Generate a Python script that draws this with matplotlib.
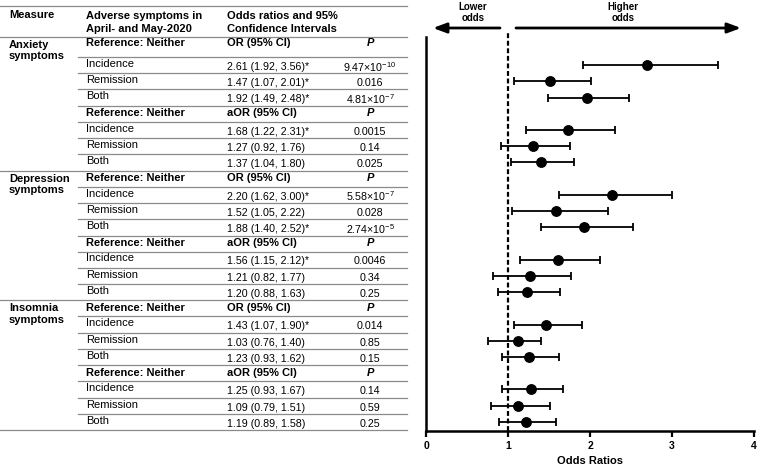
import matplotlib
matplotlib.use("Agg")
import matplotlib.pyplot as plt

plt.rcParams['font.family'] = ['Liberation Sans', 'DejaVu Sans']
plt.rcParams['mathtext.fontset'] = 'custom'
plt.rcParams['mathtext.rm'] = 'Liberation Sans'
plt.rcParams['mathtext.it'] = 'Liberation Sans:italic'
plt.rcParams['mathtext.bf'] = 'Liberation Sans:bold'

# ---------------- data ----------------
measures = ["Anxiety\nsymptoms", "Depression\nsymptoms", "Insomnia\nsymptoms"]
estimate_types = ["OR (95% CI)", "aOR (95% CI)"]
categories = ["Incidence", "Remission", "Both"]
reference_label = "Reference: Neither"

# table values (rows: measure x estimate type x category)
or_table = [2.61, 1.47, 1.92, 1.68, 1.27, 1.37,
            2.20, 1.52, 1.88, 1.56, 1.21, 1.20,
            1.43, 1.03, 1.23, 1.25, 1.09, 1.19]
ci_low = [1.92, 1.07, 1.49, 1.22, 0.92, 1.04,
          1.62, 1.05, 1.40, 1.15, 0.82, 0.88,
          1.07, 0.76, 0.93, 0.93, 0.79, 0.89]
ci_high = [3.56, 2.01, 2.48, 2.31, 1.76, 1.80,
           3.00, 2.22, 2.52, 2.12, 1.77, 1.63,
           1.90, 1.40, 1.62, 1.67, 1.51, 1.58]
significant = [True, True, True, True, False, False,
               True, False, True, True, False, False,
               True, False, False, False, False, False]
p_labels = [r"9.47×10$^{-10}$", "0.016", r"4.81×10$^{-7}$", "0.0015", "0.14", "0.025",
            r"5.58×10$^{-7}$", "0.028", r"2.74×10$^{-5}$", "0.0046", "0.34", "0.25",
            "0.014", "0.85", "0.15", "0.14", "0.59", "0.25"]
# marker positions as drawn in the forest plot
marker_or = [2.69, 1.51, 1.96, 1.73, 1.31, 1.40,
             2.27, 1.59, 1.93, 1.61, 1.27, 1.23,
             1.46, 1.12, 1.26, 1.28, 1.12, 1.22]

x_ticks = [0, 1, 2, 3, 4]
x_label = "Odds Ratios"
header = ["Measure", "Adverse symptoms in\nApril- and May-2020",
          "Odds ratios and 95%\nConfidence Intervals", "P"]

# ---------------- layout (pixels) ----------------
W, H = 760, 470
fig = plt.figure(figsize=(W / 100, H / 100), dpi=100)
tab = fig.add_axes([0, 0, 1, 1])
tab.set_xlim(0, W)
tab.set_ylim(H, 0)
tab.axis('off')

FS = 8
LINE_C = '#8a8a8a'
LW = 0.9
col1_x, col2_x, col3_x, col4_x = 9, 86, 227, 370
tab_right = 407
top_line, head_line = 6, 36.5
first_ref_h, ref_h, row_h = 20.3, 16.0, 16.3

tab.plot([0, tab_right], [top_line, top_line], color=LINE_C, lw=LW)
tab.plot([0, tab_right], [head_line, head_line], color=LINE_C, lw=LW)
tab.text(col1_x, 15.5, header[0], fontsize=FS, fontweight='bold', va='center', ha='left')
tab.text(col2_x, 22.5, header[1], fontsize=FS, fontweight='bold', va='center', ha='left', linespacing=1.3)
tab.text(col3_x, 22.5, header[2], fontsize=FS, fontweight='bold', va='center', ha='left', linespacing=1.3)

row_y = []
y0 = head_line
for b in range(6):
    m, e = divmod(b, 2)
    rh = first_ref_h if b == 0 else ref_h
    ty = y0 + (6.5 if b == 0 else 7.5)
    if e == 0:
        tab.text(col1_x, y0 + 3, measures[m], fontsize=FS, fontweight='bold',
                 va='top', ha='left', linespacing=1.15)
    tab.text(col2_x, ty, reference_label, fontsize=FS, fontweight='bold', va='center')
    tab.text(col3_x, ty, estimate_types[e], fontsize=FS, fontweight='bold', va='center')
    tab.text(col4_x, ty, "P", fontsize=FS, fontweight='bold', style='italic',
             va='center', ha='center')
    tab.plot([78, tab_right], [y0 + rh, y0 + rh], color=LINE_C, lw=LW)
    for j in range(3):
        i = b * 3 + j
        top = y0 + rh + j * row_h
        c = top + row_h / 2
        row_y.append(c)
        tab.text(col2_x, c - 1.2, categories[j], fontsize=FS, va='center')
        txt = f"{or_table[i]:.2f} ({ci_low[i]:.2f}, {ci_high[i]:.2f})" + ("*" if significant[i] else "")
        tab.text(col3_x, c + 1.8, txt, fontsize=FS - 0.3, va='center')
        tab.text(col4_x, c + 1.8, p_labels[i], fontsize=FS - 0.3, va='center', ha='center')
        yl = top + row_h
        x_start = 0 if (j == 2 and e == 1) else 78
        tab.plot([x_start, tab_right], [yl, yl], color=LINE_C, lw=LW)
    y0 = y0 + rh + 3 * row_h

# ---------------- forest plot ----------------
px_l, px_r, px_t, px_b = 426, 754, 37, 431
ax = fig.add_axes([px_l / W, (H - px_b) / H, (px_r - px_l) / W, (px_b - px_t) / H])
ax.set_xlim(x_ticks[0], x_ticks[-1])
ax.set_ylim(px_b, px_t)
ax.patch.set_alpha(0)
for s in ['top', 'right']:
    ax.spines[s].set_visible(False)
for s in ['left', 'bottom']:
    ax.spines[s].set_linewidth(1.8)
ax.set_yticks([])
ax.set_xticks(x_ticks)
ax.set_xticklabels([str(t) for t in x_ticks], fontweight='bold', fontsize=7.5)
ax.tick_params(axis='x', length=4, width=1.6, pad=3)
ax.set_xlabel(x_label, fontweight='bold', fontsize=8, labelpad=4)

ax.plot([1, 1], [px_b, 33], color='black', lw=1.6, dashes=(2.2, 1.2), clip_on=False, zorder=1)

xerr = [[marker_or[i] - ci_low[i] for i in range(18)],
        [ci_high[i] - marker_or[i] for i in range(18)]]
ax.errorbar(marker_or, row_y, xerr=xerr, fmt='o', color='black', ms=6.8,
            elinewidth=1.3, capsize=3, capthick=1.3, zorder=3, clip_on=False)

# direction arrows
arr = dict(arrowstyle='-|>,head_length=0.8,head_width=0.3', lw=2.0, color='black',
           shrinkA=0, shrinkB=0, mutation_scale=10)
tab.annotate("", xy=(433, 28), xytext=(500, 28), arrowprops=arr)
tab.annotate("", xy=(741, 28), xytext=(516, 28), arrowprops=arr)
tab.text(473, 12.5, "Lower\nodds", fontsize=7, fontweight='bold', ha='center', va='center', linespacing=1.05)
tab.text(623, 12.5, "Higher\nodds", fontsize=7, fontweight='bold', ha='center', va='center', linespacing=1.05)

fig.savefig("out.png", dpi=100)
